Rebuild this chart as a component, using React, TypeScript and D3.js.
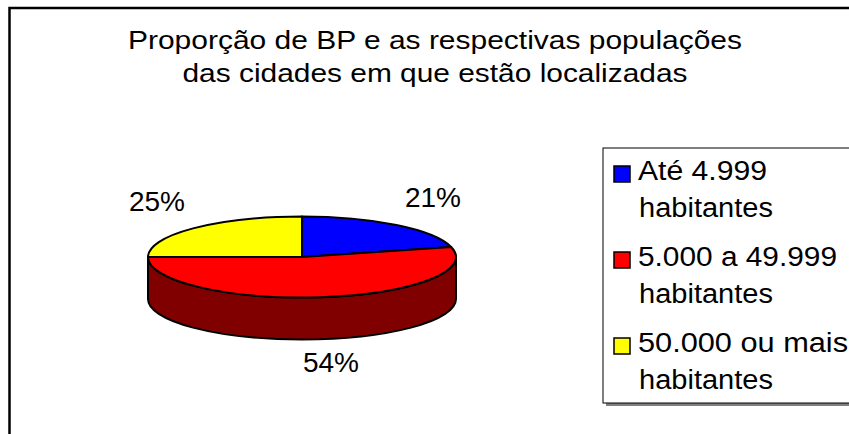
import React from "react";
import * as d3 from "d3";

const categories = ["Até 4.999 habitantes", "5.000 a 49.999 habitantes", "50.000 ou mais habitantes"];
const legendLine1 = ["Até 4.999", "5.000 a 49.999", "50.000 ou mais"];
const legendLine2 = ["habitantes", "habitantes", "habitantes"];
const values = [21, 54, 25];
const labels = ["21%", "54%", "25%"];
const colors = ["#0000FF", "#FF0000", "#FFFF00"];
const sideColors = ["#000080", "#800000", "#808000"];
const titleLines = ["Proporção de BP e as respectivas populações", "das cidades em que estão localizadas"];

const W = 849;
const H = 434;
const FONT = "'Liberation Sans', Arial, Helvetica, sans-serif";

export default function App() {
  const cx = 302;
  const cy = 257;
  const rx = 154;
  const ry = 40.5;
  const depth = 42;

  const pie = d3.pie<number>().sort(null).value((d) => d);
  const arcs = pie(values);

  const pt = (a: number, dy = 0): [number, number] => [cx + rx * Math.sin(a), cy - ry * Math.cos(a) + dy];

  const topPath = (a0: number, a1: number) => {
    const p = d3.path();
    p.moveTo(cx, cy);
    const [x0, y0] = pt(a0);
    const [x1, y1] = pt(a1);
    p.lineTo(x0, y0);
    const large = a1 - a0 > Math.PI ? 1 : 0;
    return `M${cx},${cy}L${x0},${y0}A${rx},${ry} 0 ${large} 1 ${x1},${y1}Z`;
  };

  const sidePath = (a0: number, a1: number) => {
    const s = Math.max(a0, Math.PI / 2);
    const e = Math.min(a1, (3 * Math.PI) / 2);
    if (e <= s) return null;
    const [x0, y0] = pt(s);
    const [x1, y1] = pt(e);
    const large = e - s > Math.PI ? 1 : 0;
    return `M${x0},${y0}A${rx},${ry} 0 ${large} 1 ${x1},${y1}L${x1},${y1 + depth}A${rx},${ry} 0 ${large} 0 ${x0},${y0 + depth}Z`;
  };

  // label positions (outside the pie)
  const labelPos = [
    { x: 433, y: 207 },
    { x: 331, y: 372 },
    { x: 157, y: 211 },
  ];

  const titleLen = [614, 505];
  const legendLen1 = [129, 199, 210];
  const legendLen2 = [134, 134, 134];

  const legendX = 603;
  const legendY = 148;
  const legendH = 255;
  const itemTop = [166, 252, 338];

  return (
    <svg
      width={W}
      height={H}
      style={{ position: "absolute", left: 0, top: 0, background: "#fff" }}
      fontFamily={FONT}
    >
      <rect x={0} y={0} width={W} height={H} fill="#fff" />
      <rect x={9.5} y={8} width={W + 20} height={H + 20} fill="none" stroke="#000" strokeWidth={2.5} />

      {titleLines.map((t, i) => (
        <text
          key={i}
          x={435}
          y={49 + i * 33}
          textAnchor="middle"
          fontSize={25}
          textLength={titleLen[i]}
          lengthAdjust="spacingAndGlyphs"
          fill="#000"
        >
          {t}
        </text>
      ))}

      {/* side */}
      {arcs.map((a, i) => {
        const d = sidePath(a.startAngle, a.endAngle);
        return d ? <path key={"s" + i} d={d} fill={sideColors[i]} stroke="#000" strokeWidth={2} strokeLinejoin="round" /> : null;
      })}
      {/* top */}
      {arcs.map((a, i) => (
        <path key={"t" + i} d={topPath(a.startAngle, a.endAngle)} fill={colors[i]} stroke="#000" strokeWidth={2} strokeLinejoin="round" />
      ))}

      {labels.map((l, i) => (
        <text key={"l" + i} x={labelPos[i].x} y={labelPos[i].y} textAnchor="middle" fontSize={28} fill="#000">
          {l}
        </text>
      ))}

      {/* legend */}
      <rect x={legendX + 3} y={legendY + 3} width={300} height={legendH} fill="#808080" />
      <rect x={legendX} y={legendY} width={300} height={legendH} fill="#fff" stroke="#000" strokeWidth={1} />
      {categories.map((c, i) => (
        <g key={"g" + i}>
          <rect x={614} y={itemTop[i]} width={16} height={16} fill={colors[i]} stroke="#000" strokeWidth={1.5} />
          <text x={638} y={itemTop[i] + 14} fontSize={27} textLength={legendLen1[i]} lengthAdjust="spacingAndGlyphs" fill="#000">
            {legendLine1[i]}
          </text>
          <text x={639} y={itemTop[i] + 51} fontSize={27} textLength={legendLen2[i]} lengthAdjust="spacingAndGlyphs" fill="#000">
            {legendLine2[i]}
          </text>
        </g>
      ))}
    </svg>
  );
}
